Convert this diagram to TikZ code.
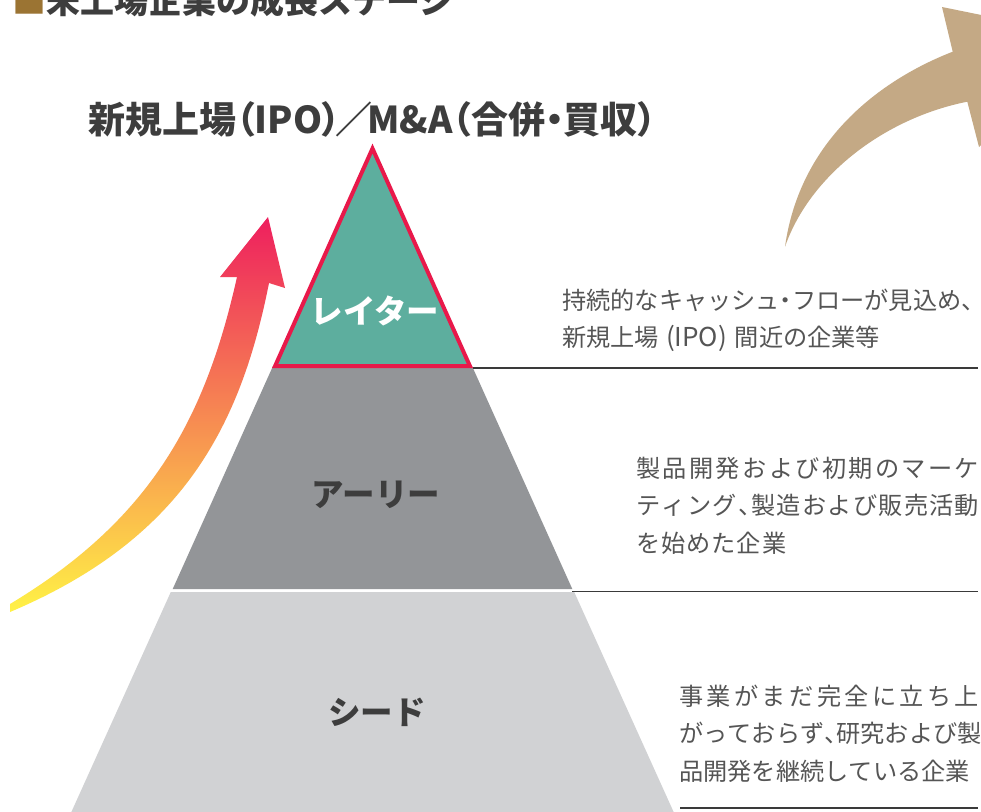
\documentclass[tikz,border=0pt]{standalone}
\usepackage{fontspec}
\newfontfamily\jp{Noto Sans CJK JP}
\newfontfamily\jpp{Noto Sans CJK JP}[RawFeature=+palt]
\definecolor{teal}{HTML}{5DAE9E}
\definecolor{redb}{HTML}{E8194A}
\definecolor{ary}{HTML}{939598}
\definecolor{seed}{HTML}{D1D2D4}
\definecolor{gold}{HTML}{C4A985}
\definecolor{sq}{HTML}{9B7433}
\definecolor{head}{HTML}{3D3D3D}
\definecolor{descgray}{HTML}{555555}
\definecolor{linegray}{HTML}{3A3A3A}
\definecolor{arTop}{HTML}{EE1F5E}
\definecolor{arMid}{HTML}{F58A64}
\definecolor{arBot}{HTML}{FFF246}
\ExplSyntaxOn
\NewDocumentCommand{\jline}{mm}{
  \makebox[#1][s]{
    \tl_head:n {#2}
    \tl_set:Nx \l_tmpa_tl { \tl_tail:n {#2} }
    \tl_map_inline:Nn \l_tmpa_tl { \hfill ##1 }
  }
}
\ExplSyntaxOff
\newcommand{\hc}{\makebox[0.5em][l]{、}}
\newcommand{\hd}{\makebox[0.5em][c]{・}}
\tikzset{
  desc/.style={anchor=base west, inner sep=0pt, text=descgray, font=\jp\fontsize{24.2}{28}\selectfont},
  stagelabel/.style={inner sep=0pt, font=\jp\bfseries\fontsize{32.5}{38}\selectfont},
  hline/.style={draw=linegray, line width=1.3pt},
  bigtitle/.style={anchor=base west, inner sep=0pt, text=head, font=\jpp\bfseries\fontsize{37}{40}\selectfont},
  toptitle/.style={anchor=base west, inner sep=0pt, text=head, font=\jp\bfseries\fontsize{34}{40}\selectfont}
}
\begin{document}
\begin{tikzpicture}[x=1pt,y=-1pt]
\useasboundingbox (0,0) rectangle (981,811);
\clip (0,0) rectangle (981,811);
\fill[white] (0,0) rectangle (981,811);

% gold arrow (top right)
\fill[gold] (952.7,51.7) .. controls (880,80) and (800,140) .. (785,246.7)
  .. controls (810,175) and (885,118) .. (967.3,101.7)
  -- (979,147) -- (1099,39) -- (942,7) -- cycle;

% gradient arrow
\shade[top color=arTop, middle color=arMid, bottom color=arBot]
  (268,217) -- (285,288) -- (269,283)
  .. controls (240,430) and (180,540) .. (10,612)
  -- (10,604)
  .. controls (150,520) and (205,420) .. (237,277)
  -- (220,277) -- cycle;

% pyramid
\fill[seed] (170.8,592) -- (574.2,592) -- (675,815) -- (70,815) -- cycle;
\fill[ary] (273,366) -- (472,366) -- (572.3,589) -- (172.7,589) -- cycle;
\filldraw[fill=teal, draw=redb, line width=4pt, line join=miter]
  (372.5,148.5) -- (469.9,366) -- (275.1,366) -- cycle;

% horizontal rules
\coordinate (r1a) at (473,368); \coordinate (r1b) at (978,368);
\coordinate (r2a) at (572,591.5); \coordinate (r2b) at (978,591.5);
\coordinate (r3a) at (680,808); \coordinate (r3b) at (978,808);
\draw[hline] (r1a) -- (r1b);
\draw[hline] (r2a) -- (r2b);
\draw[hline] (r3a) -- (r3b);

% titles
\node[toptitle] (title) at (12,13) {\textcolor{sq}{■}未上場企業の成長ステージ};
\node[bigtitle] (heading) at (88,133.5) {新規上場（IPO）\kern-0.14em／\kern-0.14em M\&A（合併・買収）};

% stage labels
\node[stagelabel, text=white] (later) at (375,311) {レイター};
\node[stagelabel, text=head] (early) at (376,495) {アーリー};
\node[stagelabel, text=head] (seedl) at (377,712) {シード};

% descriptions
\node[desc] (d1a) at (562,309) {持続的なキャッシュ\hd フローが見込め\hc};
\node[desc] (d1b) at (562,346.5) {新規上場\hspace{7pt}{\fontsize{26}{28}\selectfont(IPO)}\hspace{8pt}間近の企業等};

\node[desc] (d2a) at (636,477) {\jline{343pt}{製品開発および初期のマーケ}};
\node[desc] (d2b) at (636,514.5) {\jline{343pt}{ティング{\hc}製造および販売活動}};
\node[desc] (d2c) at (636,552) {\jline{150pt}{を始めた企業}};

\node[desc] (d3a) at (679,705) {\jline{300pt}{事業がまだ完全に立ち上}};
\node[desc] (d3b) at (679,742.5) {\jline{300pt}{がっておらず{\hc}研究および製}};
\node[desc] (d3c) at (679,780) {\jline{291pt}{品開発を継続している企業}};
\end{tikzpicture}
\end{document}
